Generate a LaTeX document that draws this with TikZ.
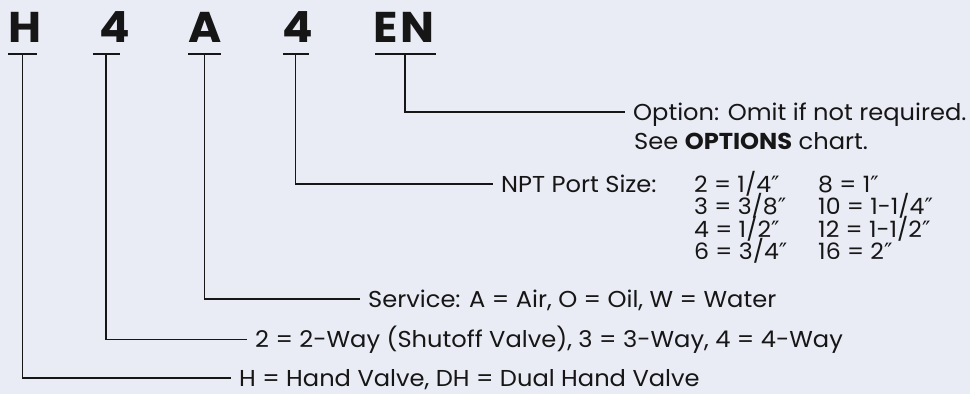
\documentclass[tikz,border=0pt]{standalone}
\usepackage{fontspec}
\setmainfont{Poppins}[FakeStretch=1.05]
\newfontfamily\prfont{DejaVu Sans}
\newcommand\dq{{\prfont ″}}
\definecolor{bg}{HTML}{E9EBF5}
\definecolor{ink}{HTML}{161616}
\begin{document}
\begin{tikzpicture}[x=1pt,y=-1pt,
  code/.style={font=\fontsize{43}{43}\selectfont\bfseries, text=ink, inner sep=0, anchor=base west},
  bar/.style={fill=ink, draw=none, inner sep=0, minimum height=2.2pt},
  conn/.style={draw=ink, line width=1.3pt},
  lbl/.style={font=\fontsize{23}{27}\selectfont, text=ink, inner xsep=8pt, inner ysep=0, text height=16pt, text depth=0pt, anchor=west},
  val/.style={font=\fontsize{22.5}{27}\selectfont, text=ink, inner sep=0, anchor=base west}]
\fill[bg] (0,0) rectangle (970,394);
\useasboundingbox (0,0) rectangle (970,394);
% code letters
\node[code] (cH)  at (8,42.7)   {H};
\node[code] (c4a) at (99,42.7)  {4};
\node[code] (cA)  at (188,42.7) {A};
\node[code] (c4b) at (282,42.7) {4};
\node[code] (cEN) at (373,42.7) {E\kern3ptN};
% bars
\node[bar, minimum width=29pt] (bH)  at (22.5,54)  {};
\node[bar, minimum width=27pt] (b4a) at (106,54)   {};
\node[bar, minimum width=33pt] (bA)  at (204.5,54) {};
\node[bar, minimum width=26pt] (b4b) at (295.5,54) {};
\node[bar, minimum width=61pt] (bEN) at (405,54)   {};
% labels
\node[lbl] (tO) at (625,112) {Option: Omit if not required.};
\node[val, font=\fontsize{23}{27}\selectfont] (tO2) at (634,149.5) {See \textbf{OPTIONS} chart.};
\node[lbl] (tN) at (493,184) {NPT Port Size:};
\node[val] (v1) at (694,192)   {2 = 1/4\dq};
\node[val] (v2) at (694,214.5) {3 = 3/8\dq};
\node[val] (v3) at (694,237)   {4 = 1/2\dq};
\node[val] (v4) at (694,259.5) {6 = 3/4\dq};
\node[val] (v5) at (818,192)   {8 = 1\dq};
\node[val] (v6) at (818,214.5) {10 = 1-1/4\dq};
\node[val] (v7) at (818,237)   {12 = 1-1/2\dq};
\node[val] (v8) at (818,259.5) {16 = 2\dq};
\node[lbl] (tS) at (360,299) {Service: A = Air, O = Oil, W = Water};
\node[lbl] (t2) at (247,339.5) {2 = 2-Way (Shutoff Valve), 3 = 3-Way, 4 = 4-Way};
\node[lbl] (tH) at (231,378) {H = Hand Valve, DH = Dual Hand Valve};
% connectors
\draw[conn] (bEN.south) |- (tO.west);
\draw[conn] (b4b.south) |- (tN.west);
\draw[conn] (bA.south) |- (tS.west);
\draw[conn] (b4a.south) |- (t2.west);
\draw[conn] (bH.south) |- (tH.west);
\end{tikzpicture}
\end{document}
